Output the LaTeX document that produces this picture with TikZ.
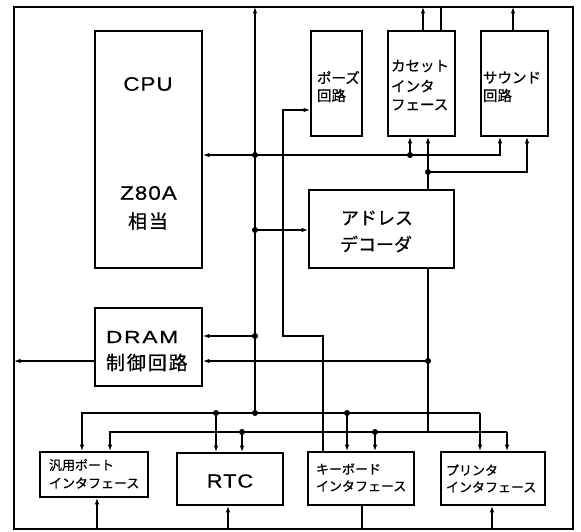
\documentclass[tikz,border=0pt]{standalone}
\usepackage{fontspec}
\newfontfamily\jp{Noto Sans CJK JP}[FakeBold=0.6]
\newfontfamily\jpw{Noto Sans CJK JP}[LetterSpace=10,FakeBold=0.6]
\newfontfamily\lat{Liberation Sans}[LetterSpace=5,FakeStretch=1.15,FakeBold=0.5]
\newfontfamily\latw{Liberation Sans}[LetterSpace=10,FakeStretch=1.3,FakeBold=0.5]
\usetikzlibrary{arrows.meta}
\begin{document}
\begin{tikzpicture}[x=1pt,y=-1pt,
  box/.style={draw, line width=1.8pt, inner sep=0pt},
  frm/.style={draw, line width=1.4pt, inner sep=0pt, outer sep=0pt},
  conn/.style={line width=1.1pt},
  arr/.style={conn, -{Latex[length=6.5pt,width=4.5pt]}},
  dot/.style={circle, fill, inner sep=0pt, minimum size=6pt},
  txt/.style={inner sep=0pt, outer sep=0pt},
  big/.style={txt, font=\lat\fontsize{19.5}{20}\selectfont},
  bigj/.style={txt, font=\jpw\fontsize{19}{20}\selectfont},
  mid/.style={txt, anchor=west, font=\jp\fontsize{14.5}{15}\selectfont},
  sml/.style={txt, anchor=west, font=\jp\fontsize{13}{14}\selectfont},
]
\useasboundingbox (0,0) rectangle (581,532);
\node[frm, minimum width=559pt, minimum height=522pt, anchor=north west] (frame) at (14,7) {};

% boxes
\node[box, minimum width=107pt, minimum height=237pt] (cpu) at (148.5,149.5) {};
\node[box, minimum width=107pt, minimum height=78pt] (dram) at (148.5,347) {};
\node[box, minimum width=51pt, minimum height=105pt] (pause) at (336.5,83.5) {};
\node[box, minimum width=67pt, minimum height=105pt] (cas) at (421.5,83.5) {};
\node[box, minimum width=67pt, minimum height=105pt] (snd) at (514.5,83.5) {};
\node[box, minimum width=145pt, minimum height=78pt] (dec) at (381.5,229) {};
\node[box, minimum width=108pt, minimum height=45pt] (han) at (94,474.5) {};
\node[box, minimum width=106pt, minimum height=52pt] (rtc) at (230,479) {};
\node[box, minimum width=106pt, minimum height=53pt] (kbd) at (361,478.5) {};
\node[box, minimum width=104pt, minimum height=53pt] (prn) at (493,478.5) {};

% texts
\node[big] (tcpu) at (148,84) {CPU};
\node[big] (tz80) at (148.5,193) {Z80A};
\node[bigj] (tsoto) at (148,221) {相当};
\node[txt, anchor=west, font=\latw\fontsize{17.5}{18}\selectfont] (tdram) at (106,337) {DRAM};
\node[bigj, anchor=west] (tseigyo) at (106,362.5) {制御回路};
\node[mid] (tp1) at (317,77.5) {ポーズ};
\node[mid] (tp2) at (317,95.5) {回路};
\node[mid] (tc1) at (391,66) {カセット};
\node[mid] (tc2) at (391,86) {インタ};
\node[mid] (tc3) at (391,105) {フェース};
\node[mid] (ts1) at (483,77.5) {サウンド};
\node[mid] (ts2) at (483,95.5) {回路};
\node[txt, anchor=west, font=\jp\fontsize{18}{19}\selectfont] (td1) at (341,218) {アドレス};
\node[txt, anchor=west, font=\jp\fontsize{18}{19}\selectfont] (td2) at (340,244) {デコーダ};
\node[sml] (th1) at (49,465) {汎用ポート};
\node[sml] (th2) at (49,483) {インタフェース};
\node[txt, font=\lat\fontsize{19}{20}\selectfont] (trtc) at (230,481) {RTC};
\node[sml] (tk1) at (316,469) {キーボード};
\node[sml] (tk2) at (316,486) {インタフェース};
\node[sml] (tpr1) at (446,470) {プリンタ};
\node[sml] (tpr2) at (446,487) {インタフェース};

% coordinates
\coordinate (b155) at (255,155);
\coordinate (b230) at (255,230);
\coordinate (b336) at (255,336);
\coordinate (b413) at (255,413);
\coordinate (j410) at (410,155);
\coordinate (j500) at (500,155);
\coordinate (d172) at (428,172);
\coordinate (d527) at (527,172);
\coordinate (c423) at (423,20);
\coordinate (c441) at (441,20);
\coordinate (s513) at (513,20);
\coordinate (p1) at (283,110);
\coordinate (p2) at (283,336);
\coordinate (p3) at (323,336);
\coordinate (d361) at (428,361);
\coordinate (d432) at (428,432);
\coordinate (u82) at (82,413);
\coordinate (u216) at (216,413);
\coordinate (u347) at (347,413);
\coordinate (u480) at (480,413);
\coordinate (l110) at (110,432);
\coordinate (l242) at (242,432);
\coordinate (l375) at (375,432);
\coordinate (l507) at (507,432);
\coordinate (q97) at (97,520);
\coordinate (q228) at (228,520);
\coordinate (q362) at (362,520);
\coordinate (q492) at (492,520);

% main bus
\draw[arr] (b413) -- (b413 |- frame.north);
\draw[arr] (b155) -- (b155 -| cpu.east);
\draw[arr] (b155) -- (j500) -- (j500 |- snd.south);
\draw[arr] (j410) -- (j410 |- cas.south);
\draw[arr] (dec.north -| d172) -- (d172 |- cas.south);
\draw[arr] (d172) -- (d527) -- (d527 |- snd.south);
\draw[arr] (cas.north -| c423) -- (c423 |- frame.north);
\draw[conn] (cas.north -| c441) -- (c441 |- frame.north);
\draw[arr] (snd.north -| s513) -- (s513 |- frame.north);
\draw[arr] (b230) -- (b230 -| dec.west);
\draw[arr] (p3 |- kbd.north) -- (p3) -- (p2) -- (p1) -- (p1 -| pause.west);
\draw[arr] (b336) -- (b336 -| dram.east);
\draw[arr] (d361) -- (d361 -| dram.east);
\draw[arr] (dram.west |- d361) -- (d361 -| frame.west);
\draw[conn] (dec.south -| d432) -- (d432);

% upper bus
\draw[arr] (u480) -- (u82) -- (u82 |- han.north);
\draw[arr] (u480) -- (u480 |- prn.north);
\draw[arr] (u216) -- (u216 |- rtc.north);
\draw[arr] (u347) -- (u347 |- kbd.north);
% lower bus
\draw[arr] (l507) -- (l110) -- (l110 |- han.north);
\draw[arr] (l507) -- (l507 |- prn.north);
\draw[arr] (l242) -- (l242 |- rtc.north);
\draw[arr] (l375) -- (l375 |- kbd.north);

% bottom links
\draw[arr] (q97 |- frame.south) -- (q97 |- han.south);
\draw[arr] (q228 |- frame.south) -- (q228 |- rtc.south);
\draw[conn] (kbd.south -| q362) -- (q362 |- frame.south);
\draw[arr] (q492 |- frame.south) -- (q492 |- prn.south);

% junction dots
\node[dot] (n1) at (b155) {};
\node[dot] (n2) at (b230) {};
\node[dot] (n3) at (b336) {};
\node[dot] (n4) at (b413) {};
\node[dot] (n5) at (j410) {};
\node[dot] (n6) at (d172) {};
\node[dot] (n7) at (d361) {};
\node[dot] (n8) at (u216) {};
\node[dot] (n9) at (u347) {};
\node[dot] (n10) at (l242) {};
\node[dot] (n11) at (l375) {};
\end{tikzpicture}
\end{document}
